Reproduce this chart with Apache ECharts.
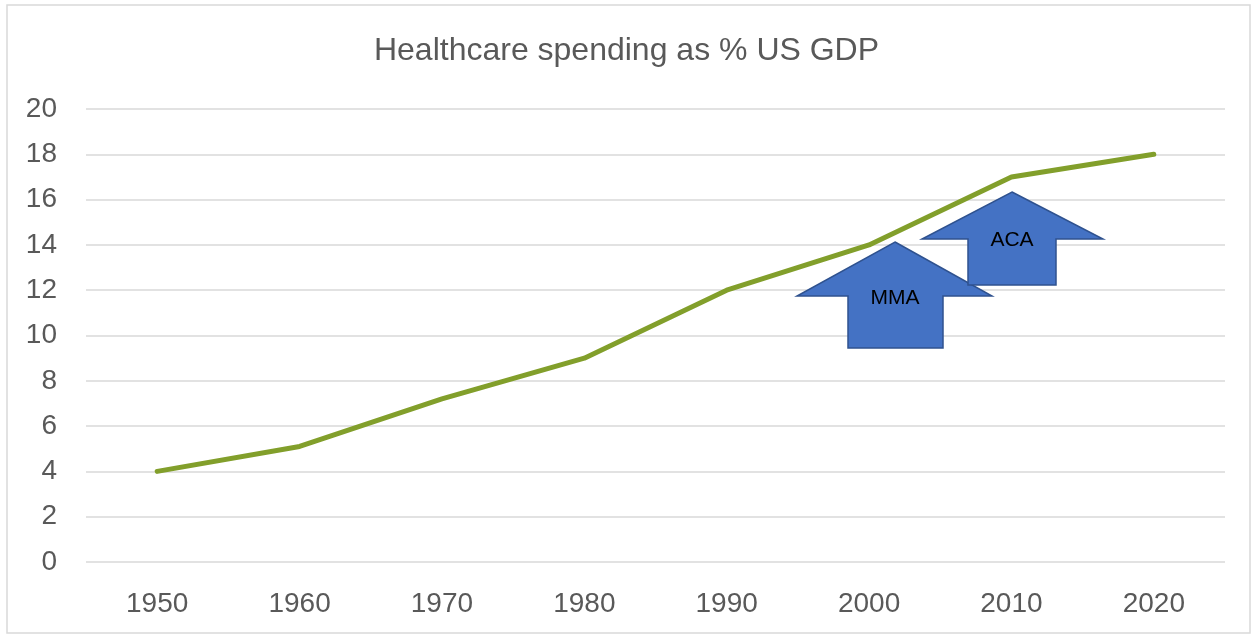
<!DOCTYPE html>
<html>
<head>
<meta charset="utf-8">
<script src="https://cdn.jsdelivr.net/npm/echarts@6/dist/echarts.min.js"></script>
<style>
  html, body { margin: 0; padding: 0; background: #fff; }
  #main { width: 1253px; height: 636px; }
</style>
</head>
<body>
<div id="main"></div>
<script>
// data
var years = ['1950', '1960', '1970', '1980', '1990', '2000', '2010', '2020']
var spending = [4, 5.1, 7.2, 9, 12, 14, 17, 18]
var yTicks = [0, 2, 4, 6, 8, 10, 12, 14, 16, 18, 20]

var chart = echarts.init(document.getElementById('main'))

// block arrow shape (tip at top) for the annotations
function upArrow(tipX, tipY, wingY, left, right, shaftL, shaftR, bottom) {
  return [[tipX, tipY], [right, wingY], [shaftR, wingY], [shaftR, bottom],
          [shaftL, bottom], [shaftL, wingY], [left, wingY]]
}

chart.setOption({
  animation: false,
  title: {
    text: 'Healthcare spending as % US GDP',
    left: 'center',
    top: 30,
    textStyle: { fontFamily: 'Liberation Sans', fontSize: 32, fontWeight: 'normal', color: '#595959' }
  },
  grid: { left: 86, right: 28, top: 109, bottom: 74 },
  xAxis: {
    type: 'category',
    data: years,
    boundaryGap: true,
    axisLine: { show: false },
    axisTick: { show: false },
    axisLabel: { fontFamily: 'Liberation Sans', fontSize: 28, color: '#595959', margin: 28 }
  },
  yAxis: {
    type: 'value',
    min: yTicks[0],
    max: yTicks[yTicks.length - 1],
    interval: 2,
    axisLine: { show: false },
    axisTick: { show: false },
    axisLabel: { fontFamily: 'Liberation Sans', fontSize: 28, color: '#595959', margin: 29 },
    splitLine: { lineStyle: { color: '#d9d9d9', width: 1.5 } }
  },
  series: [{
    type: 'line',
    data: spending,
    symbol: 'none',
    lineStyle: { color: '#829f2b', width: 5, cap: 'round', join: 'round' }
  }],
  graphic: [
    {
      type: 'rect', z: -1,
      shape: { x: 7, y: 5, width: 1243, height: 628 },
      style: { fill: 'none', stroke: '#d9d9d9', lineWidth: 1.5 }
    },
    {
      type: 'polygon', z: 10,
      shape: { points: upArrow(895, 242, 296, 797, 992, 848, 943, 348) },
      style: { fill: '#4472c4', stroke: '#2f528f', lineWidth: 1.5 }
    },
    {
      type: 'text', z: 11, x: 895, y: 298,
      style: { text: 'MMA', fill: '#000', font: '21px "Liberation Sans"', align: 'center', verticalAlign: 'middle' }
    },
    {
      type: 'polygon', z: 10,
      shape: { points: upArrow(1012, 192, 239, 922, 1103, 968, 1056, 285) },
      style: { fill: '#4472c4', stroke: '#2f528f', lineWidth: 1.5 }
    },
    {
      type: 'text', z: 11, x: 1012, y: 240,
      style: { text: 'ACA', fill: '#000', font: '21px "Liberation Sans"', align: 'center', verticalAlign: 'middle' }
    }
  ]
})
</script>
</body>
</html>
